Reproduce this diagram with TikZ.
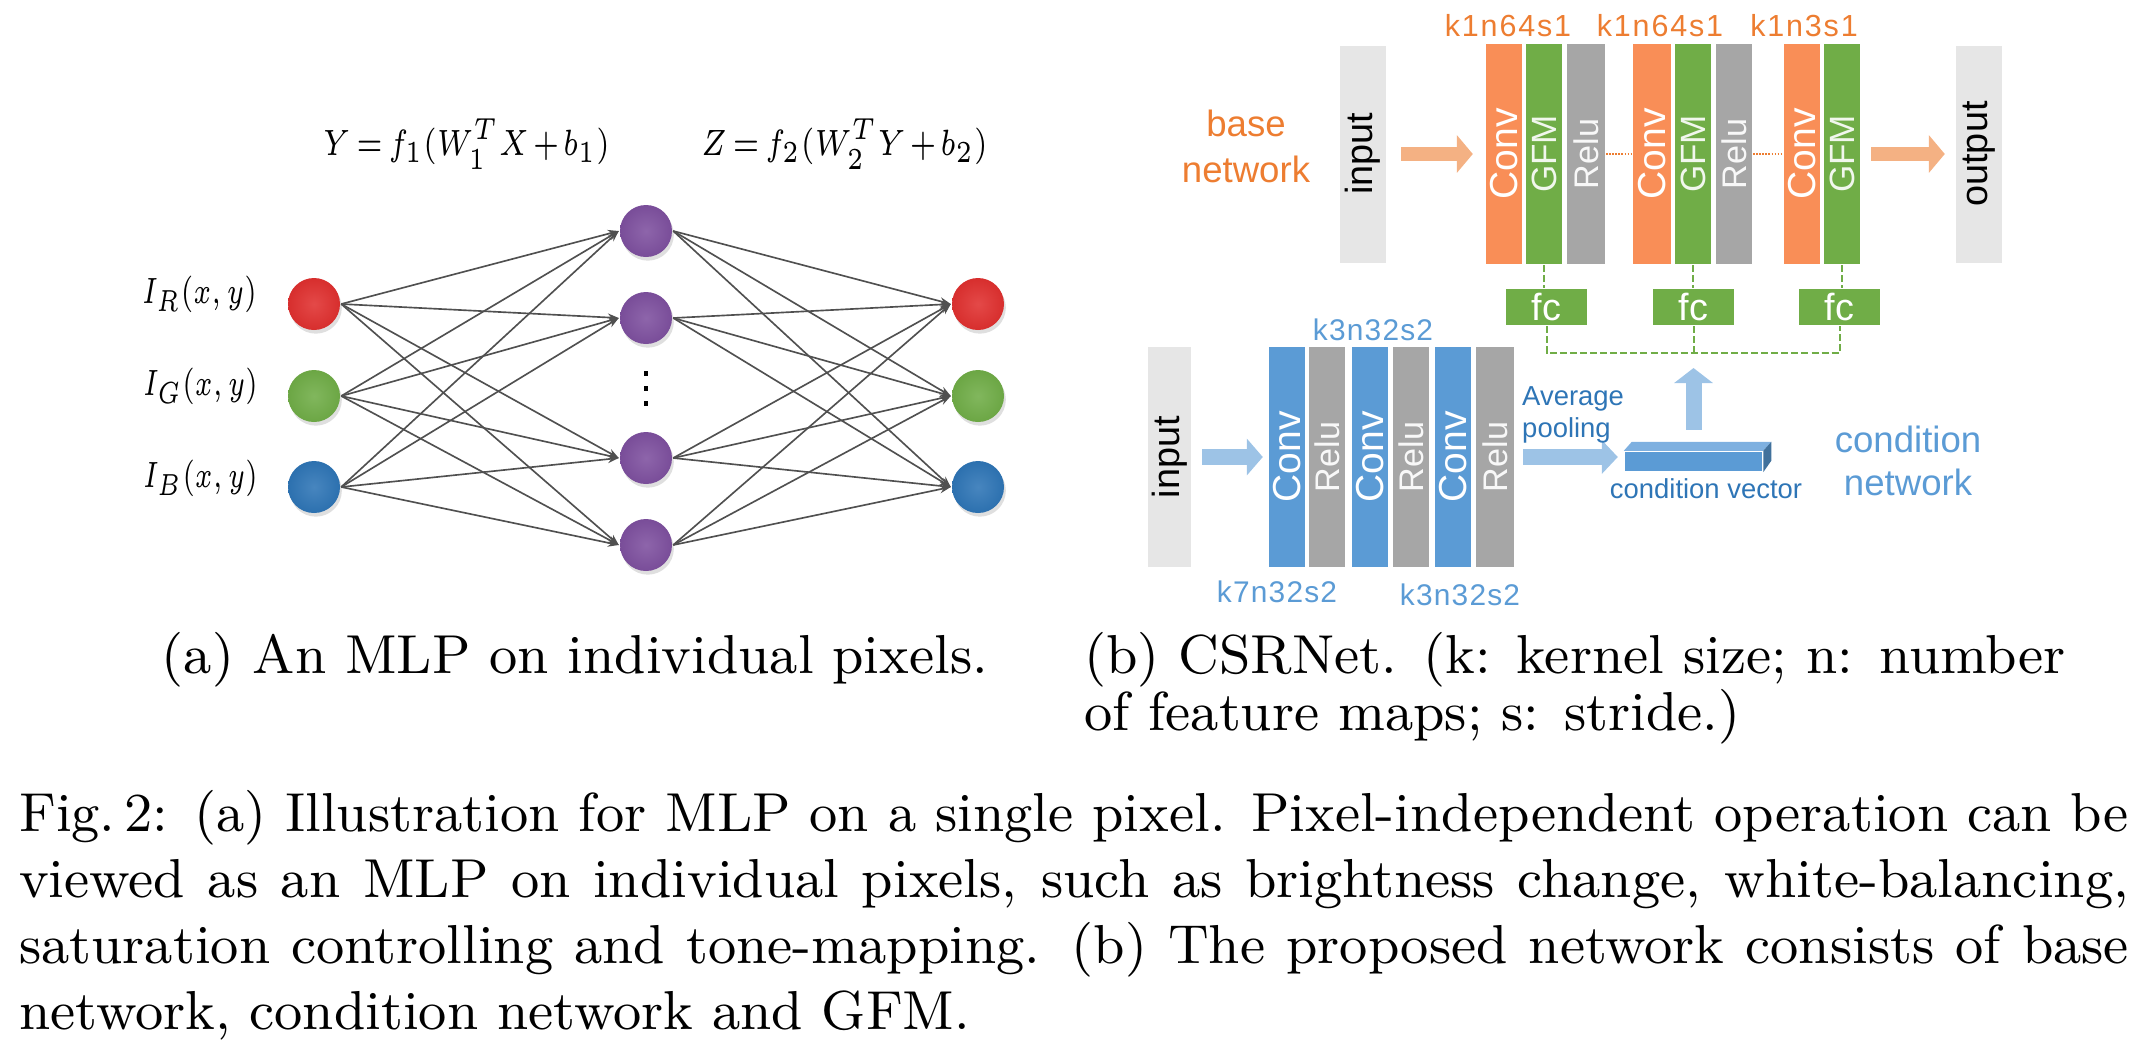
\documentclass[tikz,border=0pt]{standalone}
\usepackage{fontspec}
\usepackage{graphicx}
\usetikzlibrary{arrows.meta,calc,shadows}
\newfontfamily\arial{Liberation Sans}
\newcommand{\PX}{0.164pt}
\newcommand{\fsz}[1]{\fontsize{#1}{#1}\selectfont}
\newcommand{\tightmath}{\thickmuskip=3mu\relax\medmuskip=2mu\relax}
\definecolor{nred}{HTML}{E0302F}
\definecolor{ngreen}{HTML}{70AD47}
\definecolor{nblue}{HTML}{2E75B6}
\definecolor{npurple}{HTML}{7E509F}
\definecolor{edgegray}{HTML}{505050}
\definecolor{convorange}{HTML}{F98E57}
\definecolor{labelorange}{HTML}{ED7D31}
\definecolor{gfmgreen}{HTML}{70AD47}
\definecolor{relugray}{HTML}{A6A6A6}
\definecolor{iogray}{HTML}{E6E6E6}
\definecolor{arroworange}{HTML}{F4B183}
\definecolor{convblue}{HTML}{5B9BD5}
\definecolor{arrowblue}{HTML}{9DC3E6}
\definecolor{darkblue}{HTML}{2E75B6}
\definecolor{cvtop}{HTML}{7EB0E0}
\definecolor{cvside}{HTML}{41719C}
\tikzset{
  neuron/.style={circle, minimum size=52*\PX, inner sep=0pt,
    inner color=#1!88!white, outer color=#1!96!black,
    drop shadow={shadow xshift=0.3pt, shadow yshift=-0.6pt, opacity=0.25}},
  edge/.style={draw=edgegray, line width=0.27pt, -{Stealth[length=1.8pt,width=1.3pt]}},
  blk/.style={inner sep=0pt, minimum height=220*\PX},
  iobox/.style={blk, fill=iogray, minimum height=217*\PX, minimum width=46*\PX, text=black, font=\arial\fsz{6.2}},
  convbox/.style={blk, fill=convorange, minimum width=36*\PX, text=white, font=\arial\fsz{6.4}},
  cconvbox/.style={blk, fill=convblue, minimum width=36*\PX, text=white, font=\arial\fsz{6.4}},
  gfmbox/.style={blk, fill=gfmgreen, minimum width=36*\PX, text=white!90!gfmgreen, font=\arial\fsz{5.75}},
  relubox/.style={blk, fill=relugray, minimum width=36*\PX, text=white!92!relugray, font=\arial\fsz{5.6}},
  fcbox/.style={fill=gfmgreen, inner sep=0pt, minimum width=81*\PX, minimum height=36*\PX, text=white, font=\arial\fsz{6.2}},
  klabel/.style={text=labelorange, inner sep=0pt, anchor=base, font=\arial\fsz{5}\addfontfeature{LetterSpace=6}},
  cklabel/.style={text=convblue, inner sep=0pt, anchor=base, font=\arial\fsz{4.9}\addfontfeature{LetterSpace=4}},
  fatorange/.style={draw=arroworange, line width=14*\PX, -{Triangle[length=2.62pt,width=6.07pt]}},
  fatblue/.style={draw=arrowblue, line width=16*\PX, -{Triangle[length=2.62pt,width=5.9pt]}},
  gdash/.style={draw=gfmgreen, line width=0.33pt, dash pattern=on 1.15pt off 0.5pt},
  odot/.style={draw=labelorange, line width=0.33pt, dash pattern=on 0.25pt off 0.25pt},
  mathlab/.style={inner sep=0pt, anchor=base east, font=\fsz{5.9}\tightmath},
  eqlab/.style={inner sep=0pt, anchor=base west, font=\fsz{6}\tightmath},
}
\newcommand{\lab}[1]{\resizebox{18.8pt}{\height}{$#1$}}
\newcommand{\eqn}[1]{\resizebox{47pt}{\height}{$#1$}}
\begin{document}
\begin{tikzpicture}[x=0.164pt, y=-0.164pt]
\useasboundingbox (0,0) rectangle (2143,1056);

% ---------------- (a) MLP ----------------
\node[neuron=nred]    (iR) at (314,304) {};
\node[neuron=ngreen]  (iG) at (314,396) {};
\node[neuron=nblue]   (iB) at (314,487) {};
\node[neuron=npurple] (h1) at (646,231) {};
\node[neuron=npurple] (h2) at (646,318) {};
\node[neuron=npurple] (h3) at (646,458) {};
\node[neuron=npurple] (h4) at (646,545) {};
\node[neuron=nred]    (oR) at (978,304) {};
\node[neuron=ngreen]  (oG) at (978,396) {};
\node[neuron=nblue]   (oB) at (978,487) {};
\foreach \i in {iR,iG,iB}
  \foreach \h in {h1,h2,h3,h4}
    \draw[edge] (\i.east) -- (\h.west);
\foreach \h in {h1,h2,h3,h4}
  \foreach \o in {oR,oG,oB}
    \draw[edge] (\h.east) -- (\o.west);
\coordinate (dots) at (646,388);
\foreach \d in {-15,0,15}
  \fill ($(dots)+(-2,\d-2.5)$) rectangle ++(4,5);

\node[mathlab] (lR) at (258,303) {\lab{I_R(x,y)}};
\node[mathlab] (lG) at (259,395) {\lab{I_G(x,y)}};
\node[mathlab] (lB) at (259,487) {\lab{I_B(x,y)}};
\node[eqlab] (eqY) at (322,155) {\eqn{Y=f_1(W_1^TX+b_1)}};
\node[eqlab] (eqZ) at (700,155) {\eqn{Z=f_2(W_2^TY+b_2)}};

% ---------------- (b) base network ----------------
\node[anchor=base, align=center, inner sep=0pt, text=labelorange, font=\arial\fontsize{6}{7.4}\selectfont] (bnlab) at (1246,182) {base\\network};
\node[iobox] (bin) at (1363,154) {\rotatebox{90}{input}};
\node[convbox] (conv1) at (1504,154) {\rotatebox{90}{Conv}};
\node[gfmbox]  (gfm1)  at (1544,154) {\rotatebox{90}{GFM}};
\node[relubox, minimum width=38*\PX] (relu1) at (1586,154) {\rotatebox{90}{Relu}};
\node[convbox, minimum width=38*\PX] (conv2) at (1652,154) {\rotatebox{90}{Conv}};
\node[gfmbox]  (gfm2)  at (1693,154) {\rotatebox{90}{GFM}};
\node[relubox] (relu2) at (1734,154) {\rotatebox{90}{Relu}};
\node[convbox] (conv3) at (1802,154) {\rotatebox{90}{Conv}};
\node[gfmbox]  (gfm3)  at (1842,154) {\rotatebox{90}{GFM}};
\node[iobox] (bout) at (1979,154) {\rotatebox{90}{output}};

\node[klabel] (k1) at (1508,36) {k1n64s1};
\node[klabel] (k2) at (1660,36) {k1n64s1};
\node[klabel] (k3) at (1804,36) {k1n3s1};

\draw[fatorange, shorten <=14*\PX, shorten >=12*\PX] (bin) -- (conv1);
\draw[fatorange, shorten <=10*\PX, shorten >=10*\PX] (gfm3) -- (bout);
\draw[odot] (relu1.east) -- (conv2.west);
\draw[odot] (relu2.east) -- (conv3.west);

\node[fcbox] (fc1) at (1546.5,307) {fc};
\node[fcbox] (fc2) at (1693.5,307) {fc};
\node[fcbox] (fc3) at (1839.5,307) {fc};
\coordinate (jn) at (1693.5,353);
\draw[gdash] (gfm1.south) -- (gfm1.south |- fc1.north);
\draw[gdash] (gfm2.south) -- (gfm2.south |- fc2.north);
\draw[gdash] (gfm3.south) -- (gfm3.south |- fc3.north);
\draw[gdash] (fc1.south) -- (fc1.south |- jn) -- (fc3.south |- jn) -- (fc3.south);
\draw[gdash] (fc2.south) -- (jn);

% ---------------- condition network ----------------
\node[iobox, minimum width=43*\PX, minimum height=220*\PX] (cin) at (1169.5,457) {\rotatebox{90}{input}};
\node[cconvbox] (cconv1) at (1287,457) {\rotatebox{90}{Conv}};
\node[relubox]  (crelu1) at (1327,457) {\rotatebox{90}{Relu}};
\node[cconvbox] (cconv2) at (1370,457) {\rotatebox{90}{Conv}};
\node[relubox]  (crelu2) at (1411,457) {\rotatebox{90}{Relu}};
\node[cconvbox] (cconv3) at (1453,457) {\rotatebox{90}{Conv}};
\node[relubox, minimum width=38*\PX] (crelu3) at (1495,457) {\rotatebox{90}{Relu}};

\node[cklabel] (ck1) at (1373,340) {k3n32s2};
\node[cklabel] (ck2) at (1277,602) {k7n32s2};
\node[cklabel] (ck3) at (1460,605) {k3n32s2};

\node[fill=convblue, inner sep=0pt, minimum width=137*\PX, minimum height=19*\PX] (cv) at (1693.5,461.5) {};
\fill[cvtop] (cv.north west) -- ++(8,-9) -- ($(cv.north east)+(8,-9)$) -- (cv.north east) -- cycle;
\fill[cvside] (cv.north east) -- ++(8,-9) -- ++(0,19) -- (cv.south east) -- cycle;

\draw[fatblue, shorten <=10*\PX, shorten >=5*\PX] (cin) -- (cconv1);
\draw[fatblue, -{Triangle[length=2.62pt,width=5.4pt]}, shorten <=8*\PX, shorten >=6*\PX] (crelu3.east) -- (crelu3.east -| cv.west);
\draw[fatblue, -{Triangle[length=2.46pt,width=6.23pt]}, shorten <=21*\PX, shorten >=15*\PX] (cv.north) -- (jn);

\node[anchor=base west, align=left, inner sep=0pt, text=darkblue, font=\arial\fontsize{4.5}{5.25}\selectfont] (avg) at (1521,437) {Average\\pooling};
\node[anchor=base, inner sep=0pt, text=darkblue, font=\arial\fsz{4.5}] (cvlab) at (1706,498) {condition vector};
\node[anchor=base, align=center, inner sep=0pt, text=convblue, font=\arial\fontsize{6}{7.05}\selectfont] (cnlab) at (1908,495) {condition\\network};

% ---------------- captions ----------------
\node[anchor=base, inner sep=0pt, font=\fsz{9}] (capa) at (575,673) {(a) An MLP on individual pixels.};
\node[anchor=base west, align=left, inner sep=0pt, font=\fontsize{9}{9.35}\selectfont] (capb) at (1083,730)
  {\makebox[161pt][s]{(b) CSRNet. (k: kernel size; n: number}\\of feature maps; s: stride.)};
\node[anchor=base west, align=left, inner sep=0pt, font=\fontsize{9}{10.82}\selectfont] (cap) at (18,1029)
  {\makebox[346pt][s]{Fig.\,2: (a) Illustration for MLP on a single pixel. Pixel-independent operation can be}\\
   \makebox[346pt][s]{viewed as an MLP on individual pixels, such as brightness change, white-balancing,}\\
   \makebox[346pt][s]{saturation controlling and tone-mapping. (b) The proposed network consists of base}\\
   network, condition network and GFM.};
\end{tikzpicture}
\end{document}
